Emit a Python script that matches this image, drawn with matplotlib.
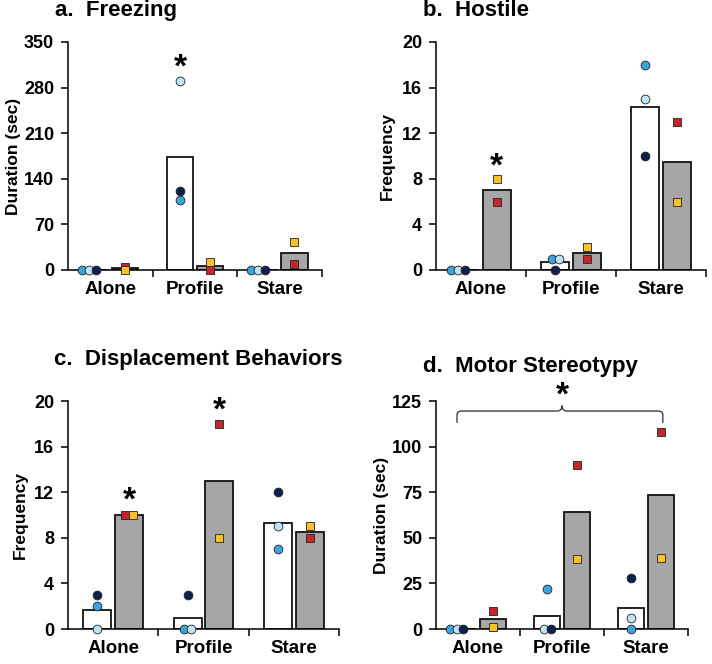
import numpy as np
import matplotlib
matplotlib.use("Agg")
import matplotlib.pyplot as plt
from matplotlib.path import Path
from matplotlib.patches import PathPatch

plt.rcParams['font.family'] = ['Liberation Sans', 'DejaVu Sans']
plt.rcParams['font.weight'] = 'bold'

categories = ['Alone', 'Profile', 'Stare']

# circles (white bars): mid blue, light blue, navy
# squares (gray bars): red, yellow
freeze_bar_white = [0, 173, 0]
freeze_bar_gray = [2.5, 6.5, 26]
freeze_mid = [0, 107, 0]
freeze_light = [0, 290, 0]
freeze_navy = [0, 121, 0]
freeze_red = [5, 0, 9]
freeze_yellow = [0, 13, 43]

host_bar_white = [0, 0.67, 14.33]
host_bar_gray = [7, 1.5, 9.5]
host_mid = [0, 1, 18]
host_light = [0, 1, 15]
host_navy = [0, 0, 10]
host_red = [6, 1, 13]
host_yellow = [8, 2, 6]

disp_bar_white = [1.67, 1, 9.33]
disp_bar_gray = [10, 13, 8.5]
disp_mid = [2, 0, 7]
disp_light = [0, 0, 9]
disp_navy = [3, 3, 12]
disp_red = [10, 18, 8]
disp_yellow = [10, 8, 9]

motor_bar_white = [0, 7.33, 11.33]
motor_bar_gray = [5.5, 64.25, 73.5]
motor_mid = [0, 22, 0]
motor_light = [0, 0, 6]
motor_navy = [0, 0, 28]
motor_red = [10, 90, 108]
motor_yellow = [1, 38.5, 39]

C_MID = '#3aa5dc'
C_LIGHT = '#bfe2f6'
C_NAVY = '#0d1f4d'
C_RED = '#c1272d'
C_YELLOW = '#f8c12c'
C_GRAY = '#a6a6a6'

W = 712
H = 664


def px_axes(l, t, r, b):
    return [l / W, 1 - b / H, (r - l) / W, (b - t) / H]


def spread(vals, sp=0.08):
    offs = np.zeros(len(vals))
    for v in set(vals):
        idx = [i for i, x in enumerate(vals) if x == v]
        n = len(idx)
        if n > 1:
            base = (np.arange(n) - (n - 1) / 2) * sp
            if n == 3:
                base -= sp
            offs[idx] = base
    return offs


def panel(rect, title, title_xy, ylabel, ylab_x, ymax, ystep,
          white, gray, circ, sq):
    ax = fig.add_axes(px_axes(*rect))
    x = np.arange(len(categories))
    dx = 0.175
    bw = 0.31
    ax.bar(x - dx, white, bw, color='white', edgecolor='#111111', lw=1.3, zorder=2)
    ax.bar(x + dx, gray, bw, color=C_GRAY, edgecolor='#111111', lw=1.3, zorder=2)

    for i in range(len(categories)):
        vals = [s[0][i] for s in circ]
        offs = spread(vals)
        for (series, col), o in zip(circ, offs):
            ax.scatter(x[i] - dx + o, series[i], s=40, marker='o', color=col,
                       edgecolors='#222222', linewidths=0.6, zorder=4, clip_on=False)
        vals = [s[0][i] for s in sq]
        offs = spread(vals)
        for (series, col), o in zip(sq, offs):
            ax.scatter(x[i] + dx + o, series[i], s=40, marker='s', color=col,
                       edgecolors='#222222', linewidths=0.6, zorder=4, clip_on=False)

    ax.set_xlim(-0.5, 2.5)
    ax.set_ylim(0, ymax)
    ax.set_yticks(np.arange(0, ymax + 0.1, ystep))
    ax.set_xticks([0.5, 1.5, 2.5])
    ax.set_xticklabels([])
    ax.set_xticks(x, minor=True)
    ax.set_xticklabels(categories, minor=True, fontsize=13.5, fontweight='bold')
    ax.tick_params(axis='x', which='minor', length=0, pad=8)
    ax.tick_params(axis='x', which='major', length=5, width=1.1, direction='out')
    ax.tick_params(axis='y', length=5, width=1.1, direction='out', pad=5,
                   labelsize=13)
    for lab in ax.get_yticklabels():
        lab.set_fontweight('bold')
    for s in ['top', 'right']:
        ax.spines[s].set_visible(False)
    for s in ['left', 'bottom']:
        ax.spines[s].set_linewidth(1.1)
    ax.set_ylabel(ylabel, fontsize=12.5, fontweight='bold')
    ax.yaxis.set_label_coords(ylab_x, 0.5)
    fig.text(title_xy[0] / W, 1 - title_xy[1] / H, title, fontsize=16,
             fontweight='bold', ha='left', va='baseline')
    return ax


def star(ax, x, y):
    ax.text(x, y, '*', fontsize=24, fontweight='bold', ha='center', va='center',
            clip_on=False, zorder=5)


fig = plt.figure(figsize=(W / 100, H / 100), dpi=100)

ax_a = panel((68, 42, 322, 270), 'a.  Freezing', (55, 16), 'Duration (sec)', -0.186,
             350, 70, freeze_bar_white, freeze_bar_gray,
             [(freeze_mid, C_MID), (freeze_light, C_LIGHT), (freeze_navy, C_NAVY)],
             [(freeze_red, C_RED), (freeze_yellow, C_YELLOW)])
star(ax_a, 1 - 0.175, 310)

ax_b = panel((436, 42, 706, 270), 'b.  Hostile', (423, 16), 'Frequency', -0.152,
             20, 4, host_bar_white, host_bar_gray,
             [(host_mid, C_MID), (host_light, C_LIGHT), (host_navy, C_NAVY)],
             [(host_red, C_RED), (host_yellow, C_YELLOW)])
star(ax_b, 0 + 0.175, 9.0)

ax_c = panel((68, 401, 339, 629), 'c.  Displacement Behaviors', (54, 365), 'Frequency',
             -0.148, 20, 4, disp_bar_white, disp_bar_gray,
             [(disp_mid, C_MID), (disp_light, C_LIGHT), (disp_navy, C_NAVY)],
             [(disp_red, C_RED), (disp_yellow, C_YELLOW)])
star(ax_c, 0 + 0.175, 11.2)
star(ax_c, 1 + 0.175, 19.1)

ax_d = panel((436, 401, 688, 629), 'd.  Motor Stereotypy', (423, 372), 'Duration (sec)',
             -0.187, 125, 25, motor_bar_white, motor_bar_gray,
             [(motor_mid, C_MID), (motor_light, C_LIGHT), (motor_navy, C_NAVY)],
             [(motor_red, C_RED), (motor_yellow, C_YELLOW)])

# curly bracket over all conditions
xl, xr, xm = -0.25, 2.2, 1.0
y0, y1, y2 = 113, 119.5, 122.5
ddx, ddy = 0.06, 2.0
verts = [(xl, y0), (xl, y1 - ddy), (xl, y1), (xl + ddx, y1), (xm - ddx, y1),
         (xm, y1), (xm, y2), (xm, y1), (xm + ddx, y1), (xr - ddx, y1),
         (xr, y1), (xr, y1 - ddy), (xr, y0)]
codes = [Path.MOVETO, Path.LINETO, Path.CURVE3, Path.CURVE3, Path.LINETO,
         Path.CURVE3, Path.CURVE3, Path.CURVE3, Path.CURVE3, Path.LINETO,
         Path.CURVE3, Path.CURVE3, Path.LINETO]
ax_d.add_patch(PathPatch(Path(verts, codes), fill=False, edgecolor='#404040',
                         lw=1.0, clip_on=False, zorder=5))
star(ax_d, xm, 127.5)

fig.savefig('out.png', dpi=100)
